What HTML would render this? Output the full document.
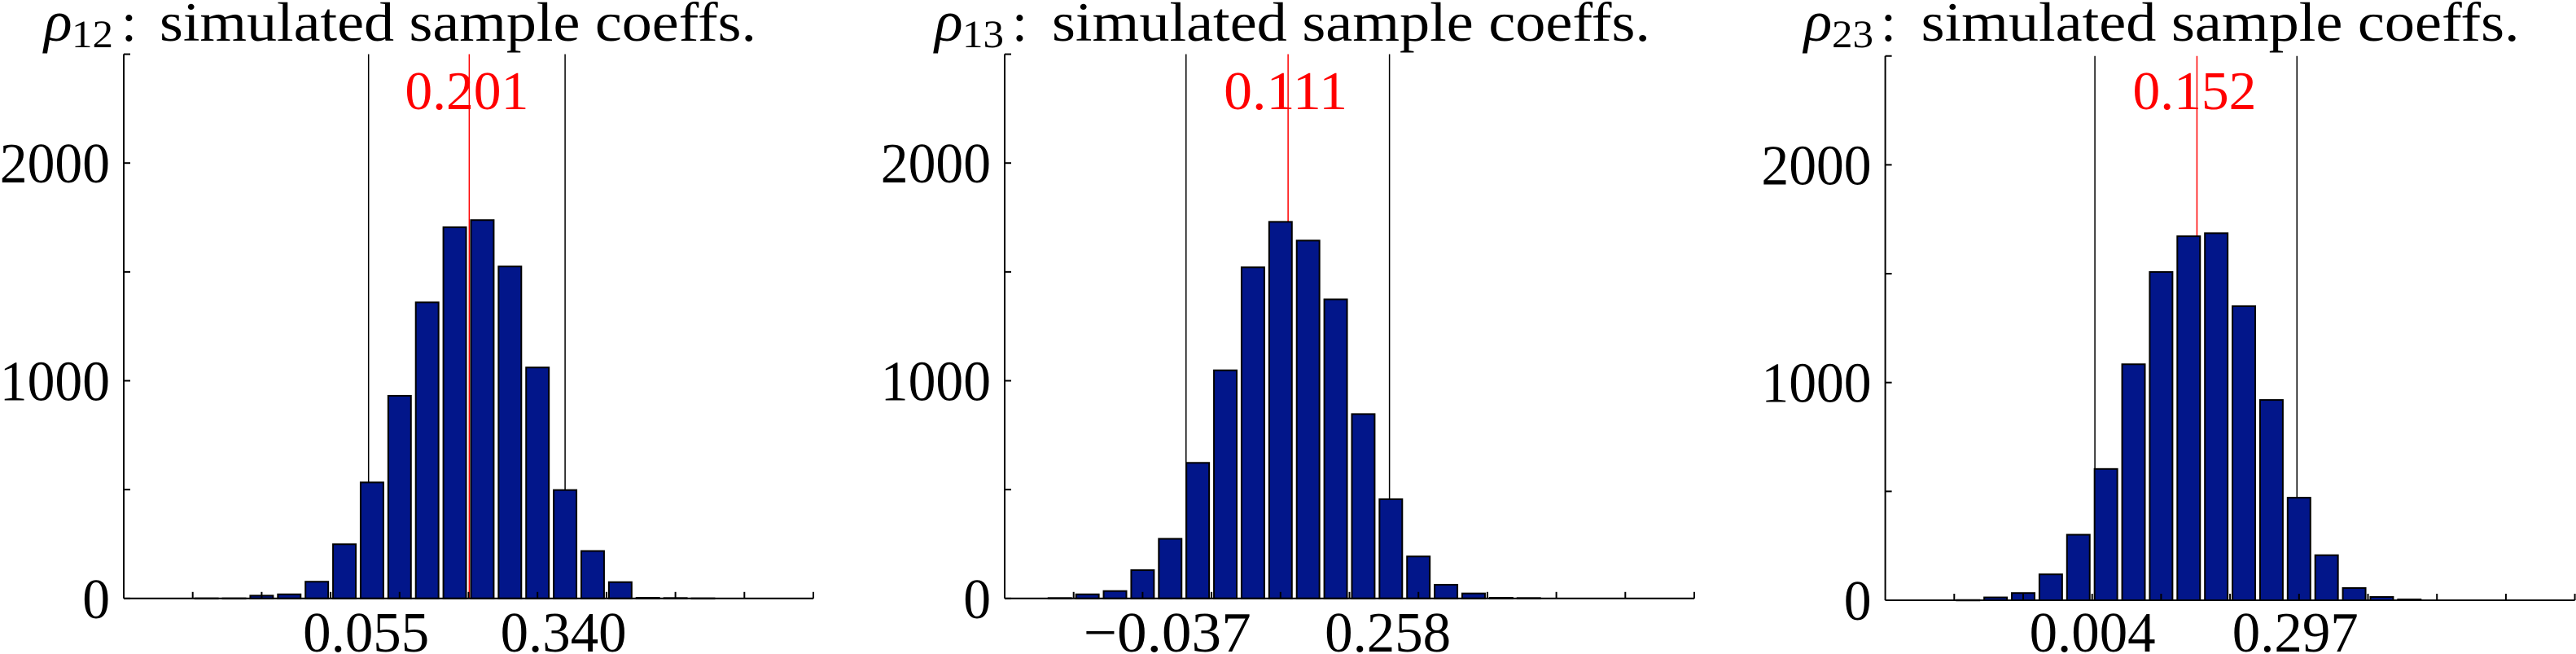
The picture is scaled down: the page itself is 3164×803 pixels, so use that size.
<!DOCTYPE html>
<html><head><meta charset="utf-8">
<style>
html,body{margin:0;padding:0;background:#fff;}
svg{display:block;}
text{font-family:"Liberation Serif",serif;}
</style></head>
<body>
<svg id="chart" width="3164" height="803" viewBox="0 0 3164 803" xmlns="http://www.w3.org/2000/svg"></svg>
<script>
// ---- data ----
const binWidth = 0.04;
const binStarts = [-0.18, -0.22, -0.18];
const counts1 = [1,1,13,19,77,249,533,931,1360,1705,1738,1525,1061,498,218,75,3,2,1];
const counts2 = [2,19,34,130,274,623,1048,1521,1730,1644,1374,847,456,193,63,23,3,2];
const counts3 = [1,13,33,119,301,603,1084,1508,1672,1686,1351,920,471,207,56,15,4];
const meanValues = [0.201, 0.111, 0.152];
const meanLabels = ["0.201", "0.111", "0.152"];
const lowerBounds = [0.055, -0.037, 0.004];
const upperBounds = [0.340, 0.258, 0.297];
const lowerLabels = ["0.055", "\u22120.037", "0.004"];
const upperLabels = ["0.340", "0.258", "0.297"];
const subscripts = ["12", "13", "23"];
const yTicks = [0, 500, 1000, 1500, 2000, 2500];
const yTickLabels = ["0", "", "1000", "", "2000", ""];
const xTicks = [-0.2,-0.1,0,0.1,0.2,0.3,0.4,0.5,0.6,0.7];
const xDomain = [-0.3, 0.7];
const yDomain = [0, 2500];

const NS = "http://www.w3.org/2000/svg";
const svg = document.getElementById("chart");
function mk(tag, attrs, parent){
  const e = document.createElementNS(NS, tag);
  for (const k in attrs) e.setAttribute(k, attrs[k]);
  (parent||svg).appendChild(e);
  return e;
}
const panels = [
  {ax:152, base:734.8, title:{rho:54, sub:88, colon:149, main:196, len:733}, counts:counts1},
  {ax:1234, base:734.8, title:{rho:1148, sub:1182, colon:1243, main:1292, len:735}, counts:counts2},
  {ax:2315.6, base:737, title:{rho:2215.6, sub:2250, colon:2310, main:2359.6, len:735}, counts:counts3}
];
const axW = 847, pxPerCount = 0.2673;

panels.forEach((p, i) => {
  const g = mk("g", {});
  
  
  const xs = v => p.ax + (v - xDomain[0]) / (xDomain[1] - xDomain[0]) * axW;
  const ys = v => p.base - (v - yDomain[0]) * pxPerCount;

  // title
  const t = mk("g", {}, g);
  
  
  const r = mk("text", {x:p.title.rho, y:50, "font-size":72, "font-style":"italic"}, t);
  r.textContent = "\u03c1";
  const s = mk("text", {x:p.title.sub, y:58, "font-size":48, textLength:51, lengthAdjust:"spacingAndGlyphs"}, t);
  s.textContent = subscripts[i];
  const c = mk("text", {x:p.title.colon, y:50, "font-size":68}, t);
  c.textContent = ":";
  const m = mk("text", {x:p.title.main, y:50, "font-size":68, textLength:p.title.len, lengthAdjust:"spacingAndGlyphs"}, t);
  m.textContent = "simulated sample coeffs.";

  // CI lines (behind bars)
  [[lowerBounds[i],'lower-bound-line'],[upperBounds[i],'upper-bound-line']].forEach(([v,n]) => {
    const l = mk("line", {x1:xs(v), x2:xs(v), y1:ys(2500), y2:p.base, stroke:"#000", "stroke-width":1.5}, g);
    
    
  });
  const red = mk("line", {x1:xs(meanValues[i]), x2:xs(meanValues[i]), y1:ys(2500), y2:p.base, stroke:"#ff0000", "stroke-width":1.5}, g);
  
  

  // bars
  p.counts.forEach((v, k) => {
    const cx = binStarts[i] + k * binWidth;
    const x0 = xs(cx - 0.0165), x1 = xs(cx + 0.0165);
    const b = mk("rect", {x:x0, y:ys(v), width:x1-x0, height:Math.max(p.base - ys(v), 0.5), fill:"#02168a", stroke:"#000", "stroke-width":2}, g);
    
    
  });

  // axes
  const ya = mk("line", {x1:p.ax, x2:p.ax, y1:ys(2500), y2:p.base, stroke:"#000", "stroke-width":2}, g);
  
  
  const xa = mk("line", {x1:p.ax, x2:p.ax+axW, y1:p.base, y2:p.base, stroke:"#000", "stroke-width":2}, g);
  
  

  yTicks.forEach((v, k) => {
    const tk = mk("line", {x1:p.ax, x2:p.ax+8, y1:ys(v), y2:ys(v), stroke:"#000", "stroke-width":2}, g);
    
    
    if (yTickLabels[k]) {
      const tl = mk("text", {x:p.ax-17, y:ys(v)+24, "font-size":70, "text-anchor":"end", textLength:yTickLabels[k].length*33.8, lengthAdjust:"spacingAndGlyphs"}, g);
      tl.textContent = yTickLabels[k];
      
      
    }
  });
  xTicks.forEach(v => {
    const tk = mk("line", {x1:xs(v), x2:xs(v), y1:p.base, y2:p.base-8, stroke:"#000", "stroke-width":2}, g);
    
    
  });

  // bound labels
  const lw = lowerLabels[i].length > 5 ? 206 : 155;
  const lo = mk("text", {x:xs(lowerBounds[i]) - (lw > 155 ? 23 : 3), y:800, "font-size":70, "text-anchor":"middle", textLength:lw, lengthAdjust:"spacingAndGlyphs"}, g);
  lo.textContent = lowerLabels[i];
  
  
  const up = mk("text", {x:xs(upperBounds[i]) - 2, y:800, "font-size":70, "text-anchor":"middle", textLength:155, lengthAdjust:"spacingAndGlyphs"}, g);
  up.textContent = upperLabels[i];
  
  
  const ml = mk("text", {x:xs(meanValues[i]) - 3, y:134, "font-size":67, "text-anchor":"middle", fill:"#ff0000", textLength:152, lengthAdjust:"spacingAndGlyphs"}, g);
  ml.textContent = meanLabels[i];
  
  
});
</script>
</body></html>
